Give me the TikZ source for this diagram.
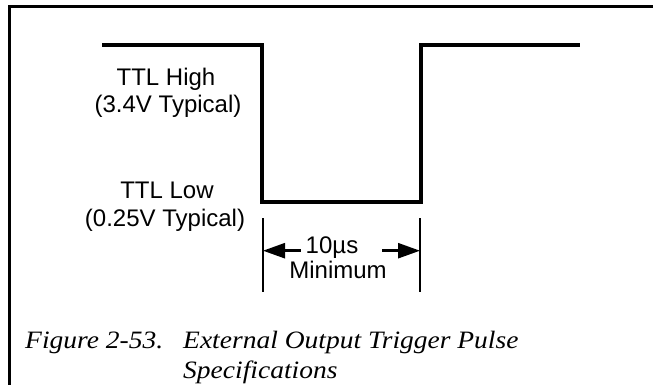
\documentclass[tikz,border=0pt]{standalone}
\usepackage{fontspec}
\setmainfont{Liberation Serif}
\setsansfont{Liberation Sans}
\newfontfamily\capfont{Liberation Serif}[FakeStretch=1.1]
\usetikzlibrary{arrows.meta,positioning}

\begin{document}
\begin{tikzpicture}[
    x=1pt, y=-1pt,
    level/.style={font=\sffamily\fontsize{24}{28.5}\selectfont, inner sep=0pt, anchor=base},
    caption/.style={font=\capfont\itshape\fontsize{25}{30}\selectfont, inner sep=0pt, anchor=base west},
    pulse/.style={line width=4.5pt},
    frame/.style={line width=3pt},
    tick/.style={line width=2pt},
    dim/.style={line width=2.5pt, -{Triangle[length=22pt,width=15pt]}}
]
    \useasboundingbox (0,0) rectangle (653,385);

    % Frame (top and left edge only)
    \coordinate (tr) at (653,7);
    \coordinate (tl) at (9,7);
    \coordinate (bl) at (9,385);
    \draw[frame] (tr) -- (tl) -- (bl);

    % Pulse
    \coordinate (start) at (102,45);
    \coordinate (fall) at (262,45);
    \coordinate (lowa) at (262,202);
    \coordinate (lowb) at (421,202);
    \coordinate (rise) at (421,45);
    \coordinate (stop) at (580,45);
    \draw[pulse] (start) -- (fall) -- (lowa) -- (lowb) -- (rise) -- (stop);

    % Levels
    \node[level] (high) at (166,86) {TTL High};
    \node[level] (highv) at (168,113) {(3.4V Typical)};
    \node[level] (low) at (167,198) {TTL Low};
    \node[level] (lowv) at (165,226) {(0.25V Typical)};

    % Pulse width
    \coordinate (tla) at (263,218);
    \coordinate (tlb) at (263,292);
    \coordinate (tra) at (420,218);
    \coordinate (trb) at (420,292);
    \draw[tick] (tla) -- (tlb);
    \draw[tick] (tra) -- (trb);
    \node[level] (width) at (332,253) {10µs};
    \node[level] (minimum) at (338,278) {Minimum};
    \draw[dim, shorten <=5pt] (width.mid west) -- (width.mid west -| tla);
    \draw[dim, shorten <=24pt] (width.mid east) -- (width.mid east -| tra);

    % Caption
    \node[caption] (fig) at (25,348) {Figure 2-53.};
    \node[caption] (title) at (183,348) {External Output Trigger Pulse};
    \node[caption] (title2) at (183,378) {Specifications};
\end{tikzpicture}
\end{document}
